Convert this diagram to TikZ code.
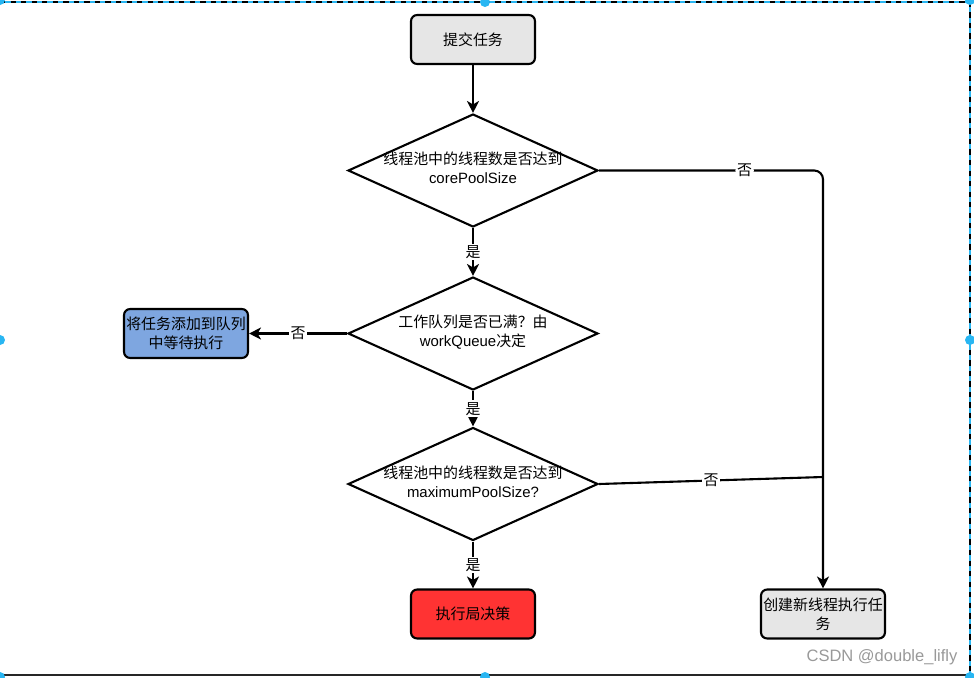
\documentclass[tikz,border=0pt]{standalone}
\usepackage{fontspec}
\setmainfont{Noto Sans CJK SC}
\newfontfamily\lat{Liberation Sans}
\usetikzlibrary{shapes.geometric,arrows.meta}

\definecolor{boxgray}{HTML}{E6E6E6}
\definecolor{boxblue}{HTML}{7EA6E0}
\definecolor{boxred}{HTML}{FF3333}
\definecolor{handle}{HTML}{29B6F2}

% text of a decision, kept out of the diamond's size
\newcommand{\dtext}[1]{\raisebox{-4pt}{\makebox[0pt]{\smash{\begin{tabular}{@{}c@{}}#1\end{tabular}}}}}

\begin{document}
\begin{tikzpicture}[x=0.02cm, y=-0.02cm,
    txt/.style={font=\fontsize{8.5}{10.8}\selectfont},
    term/.style={txt, draw, line width=1.2pt, rectangle, rounded corners=3.5pt,
        minimum width=2.48cm, minimum height=0.98cm, inner sep=1pt, align=center},
    decision/.style={draw, line width=1.2pt, diamond, minimum width=5cm,
        minimum height=2.26cm, inner sep=0pt, txt},
    flow/.style={line width=1.2pt, -{Stealth[length=0.24cm, width=0.24cm, inset=0.07cm]}},
    lbl/.style={txt, fill=white, inner sep=1pt}]

    \useasboundingbox (0,0) rectangle (974,677);

    % selection frame
    \draw[handle, line width=1pt] (0,2) -- (970,2) -- (970,675);
    \draw[black, line width=1pt, dash pattern=on 3pt off 3pt] (0,2) -- (970,2) -- (970,675);
    \draw[black!85, line width=1pt] (0,675) -- (970,675);
    \foreach \p in {(0,0),(485,2),(970,0),(0,340),(970,340),(0,677),(485,677),(970,677)}
        \fill[handle] \p circle (0.1cm);

    \node[term, fill=boxgray] (submit) at (473,39.5) {提交任务};
    \node[decision] (core) at (473,170.5) {\dtext{线程池中的线程数是否达到\\{\lat corePoolSize}}};
    \node[decision] (full) at (473,333.5) {\dtext{工作队列是否已满？由\\{\lat workQueue}决定}};
    \node[decision] (max) at (473,484) {\dtext{线程池中的线程数是否达到\\{\lat maximumPoolSize?}}};
    \node[term, fill=boxblue] (queue) at (186,333.5) {将任务添加到队列\\中等待执行};
    \node[term, fill=boxred] (reject) at (473,614) {执行局决策};
    \node[term, fill=boxgray] (create) at (823,614) {创建新线程执行任\\务};
    \coordinate (join) at (823,477);

    \draw[flow] (submit) -- (core);
    \draw[flow] (core) -- node[lbl] {是} (full);
    \draw[flow] (full) -- node[lbl] {是} (max);
    \draw[flow] (max) -- node[lbl] {是} (reject);
    \draw[flow] (full.west) -- node[lbl] {否} (queue.east);
    \draw[flow, rounded corners=5pt] (core.east) -| node[lbl, pos=0.325] {否} (create.north);
    \draw[line width=1.2pt] (max.east) -- node[lbl] {否} (join);

    \node[font=\lat\fontsize{9.4}{11}\selectfont, text=black!40] (mark) at (882,657) {CSDN @double\_lifly};

\end{tikzpicture}
\end{document}
